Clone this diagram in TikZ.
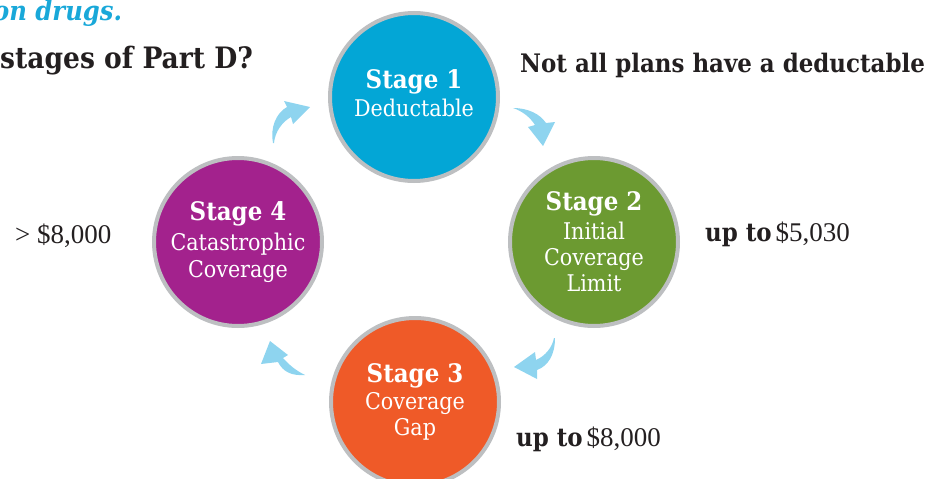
\documentclass[tikz,border=0pt]{standalone}
\usepackage{fontspec}
\setmainfont{DejaVu Serif Condensed}
\newfontfamily\numfont{Liberation Serif}
\definecolor{stageblue}{HTML}{03A6D6}
\definecolor{stagegreen}{HTML}{6C9A31}
\definecolor{stageorange}{HTML}{EF5A28}
\definecolor{stagepurple}{HTML}{A3228D}
\definecolor{ringgray}{HTML}{BDBFC1}
\definecolor{arrowblue}{HTML}{8ED4EF}
\definecolor{inkdark}{HTML}{231F20}
\definecolor{titleblue}{HTML}{19A8D9}
\newcommand{\stagefnt}{\bfseries\fontsize{25.5}{28}\selectfont}
\newcommand{\subfnt}{\fontsize{23}{26}\selectfont}
\newcommand{\lblbold}{\bfseries\fontsize{25.5}{28}\selectfont}
\newcommand{\numfnt}{\numfont\fontsize{27}{30}\selectfont}
\begin{document}
\begin{tikzpicture}[x=1pt,y=-1pt]
\useasboundingbox (0,0) rectangle (930,479);
\tikzset{
  stagecircle/.style={circle, minimum size=168pt, inner sep=0pt, draw=ringgray,
    line width=4pt, text=white, align=center, font=\subfnt},
  arrowshape/.style={fill=arrowblue, draw=none},
  txt/.style={inner sep=0pt, text=inkdark, anchor=base west},
}
% circles
\node[stagecircle, fill=stageblue] (s1) at (414,97) {{\stagefnt Stage 1}\\[2pt]Deductable\\[-18pt]\mbox{}};
\node[stagecircle, fill=stagegreen] (s2) at (594,242) {{\stagefnt Stage 2}\\[3pt]Initial\\Coverage\\Limit};
\node[stagecircle, fill=stageorange] (s3) at (415,402) {{\stagefnt Stage 3}\\[1pt]Coverage\\Gap};
\node[stagecircle, fill=stagepurple] (s4) at (238,242) {{\stagefnt Stage 4}\\[4pt]Catastrophic\\[1pt]Coverage};
% arrows
\fill[arrowshape] (513,108) .. controls (528,108) and (540,114) .. (546,123)
  -- (555,122) -- (543,146) -- (528,127) -- (535,125)
  .. controls (530,117) and (522,111) .. (513,108) -- cycle;
\fill[arrowshape] (273,143) .. controls (270,128) and (276,113) .. (287,107)
  -- (284,101) -- (310,107) -- (293,124) -- (291,117)
  .. controls (282,122) and (275,132) .. (274,143) -- cycle;
\fill[arrowshape] (555,338) .. controls (555,355) and (548,366) .. (537,370)
  -- (537,379) -- (514,367) -- (535,352) -- (536,360)
  .. controls (545,356) and (552,348) .. (554,338) -- cycle;
\fill[arrowshape] (305,375) .. controls (292,376) and (283,372) .. (278,362)
  -- (261,364) -- (270,341) -- (288,355) -- (283,358)
  .. controls (290,366) and (297,371) .. (305,375) -- cycle;
% texts
\node[txt, text=titleblue, font=\bfseries\itshape\fontsize{27}{30}\selectfont] (t0) at (-7,20) {on drugs.};
\node[txt, font=\bfseries\fontsize{29.5}{32}\selectfont] (t1) at (0,68) {stages of Part D?};
\node[txt, font=\lblbold] (n1) at (520,72) {Not all plans have a deductable};
\node[txt] (n2) at (705,241) {{\lblbold up to}\hspace{1pt} {\numfnt \$5,030}};
\node[txt] (n3) at (516,446) {{\lblbold up to}\hspace{1pt} {\numfnt \$8,000}};
\node[txt, font=\numfnt] (n4) at (15,243) {> \$8,000};
\end{tikzpicture}
\end{document}
